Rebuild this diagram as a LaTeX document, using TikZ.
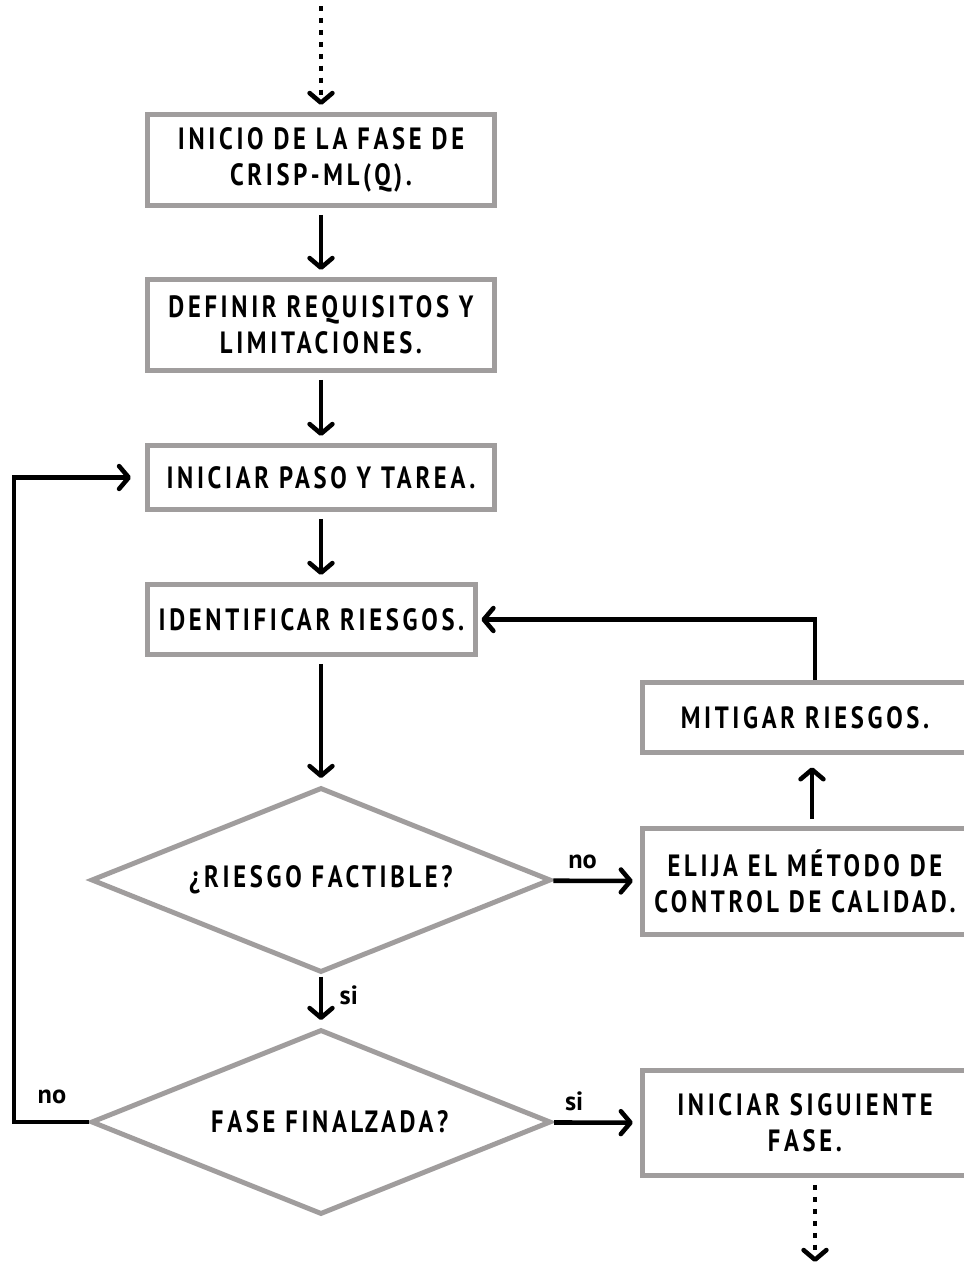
\documentclass[tikz,border=0pt]{standalone}
\usepackage{fontspec}
\setmainfont{PT Sans}[LetterSpace=12,FakeStretch=0.8]
\newfontfamily\lblfont{PT Sans}
\usetikzlibrary{shapes.geometric,arrows.meta,positioning}
\definecolor{boxgray}{RGB}{160,157,157}

\begin{document}
\begin{tikzpicture}[x=0.02cm,y=-0.02cm,
box/.style={draw=boxgray,line width=2.8pt,fill=white,align=center,inner sep=0pt,
  font=\bfseries\fontsize{17.5}{20.4}\selectfont},
dec/.style={box,diamond,aspect=2.5,minimum width=9.2cm,minimum height=3.7cm},
arr/.style={line width=2.6pt,shorten <=4pt,shorten >=4pt,
  -{Straight Barb[round,length=5.5pt,width=13pt]}},
dots/.style={arr,line cap=butt,dash pattern=on 2.8pt off 4pt},
lbl/.style={font=\lblfont\bfseries\fontsize{15}{16}\selectfont}]
\useasboundingbox (0,0) rectangle (964,1262);
% boxes
\node[box,minimum width=6.94cm,minimum height=1.82cm] (b1) at (321,160)
  {INICIO DE LA FASE DE\\CRISP-ML(Q).};
\node[box,minimum width=6.94cm,minimum height=1.82cm] (b2) at (321,325)
  {DEFINIR REQUISITOS Y\\LIMITACIONES.};
\node[box,minimum width=6.94cm,minimum height=1.28cm] (b3) at (321,477.5)
  {INICIAR PASO Y TAREA.};
\node[box,minimum width=6.56cm,minimum height=1.40cm] (b4) at (311.5,619.5)
  {IDENTIFICAR RIESGOS.};
\node[box,minimum width=6.51cm,minimum height=1.40cm] (b5) at (805,717.5)
  {MITIGAR RIESGOS.};
\node[box,minimum width=6.51cm,minimum height=2.12cm] (b6) at (805,881.5)
  {ELIJA EL MÉTODO DE\\CONTROL DE CALIDAD.};
\node[box,minimum width=6.51cm,minimum height=2.10cm] (b7) at (805,1123)
  {INICIAR SIGUIENTE\\FASE.};
% decisions
\node[dec] (d1) at (321,880) {¿RIESGO FACTIBLE?};
\node[dec] (d2) at (321,1122) {\hspace*{0.35cm}FASE FINALZADA?};
% helper points
\coordinate (top) at (321,6);
\coordinate (bot) at (815,1262);
\coordinate (rx) at (815,0);
\coordinate (lx) at (14,0);
% connectors
\draw[dots,shorten <=0pt] (top) -- (b1);
\draw[arr] (b1) -- (b2);
\draw[arr] (b2) -- (b3);
\draw[arr] (b3) -- (b4.north -| b3);
\draw[arr] (b4.south -| d1) -- (d1);
\draw[arr,shorten <=1pt] (d1) -- node[lbl,right=6pt,pos=0.4] {si} (d2);
\draw[arr,shorten <=1pt] (d1) -- node[lbl,above=2pt,pos=0.35] {no} (b6);
\draw[arr,shorten >=7pt] (b6.north -| 812,0) -- (b5.south -| 812,0);
\draw[arr,shorten <=0pt,shorten >=2pt] (b5.north -| rx) |- (b4.east);
\draw[arr,shorten <=1pt] (d2) -- node[lbl,above=2pt,pos=0.25] {si} (b7);
\draw[arr,shorten <=0pt,shorten >=8pt] (d2.west) -| (lx |- b3.west) -- (b3.west);
\node[lbl] (nol) at (52,1097) {no};
\draw[dots,shorten >=0pt] (b7.south -| rx) -- (bot);
\end{tikzpicture}
\end{document}
